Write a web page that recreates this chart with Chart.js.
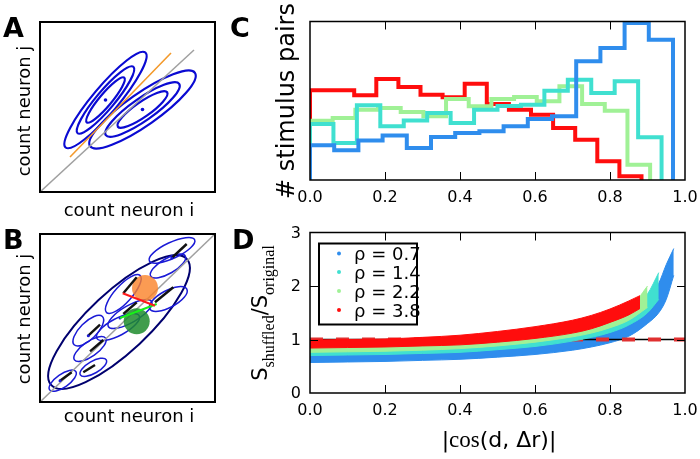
<!DOCTYPE html>
<html>
<head>
<meta charset="utf-8">
<script src="https://cdn.jsdelivr.net/npm/chart.js@4.4.0/dist/chart.umd.min.js"></script>
<style>
  body { margin: 0; background: #fff; width: 700px; height: 459px; overflow: hidden; position: relative; }
  canvas { position: absolute; left: 0; top: 0; }
</style>
</head>
<body>
<canvas id="chartA" width="700" height="459"></canvas>
<canvas id="chartB" width="700" height="459"></canvas>
<canvas id="chartC" width="700" height="459"></canvas>
<canvas id="chartD" width="700" height="459"></canvas>
<script>
// ---- Panel A: two response clouds (units = box pixels, y up) ----
const aDiagonal = [[0, 0], [154, 142]];
const aOrangeLine = [[30, 35], [131, 139]];
const aCenters = [[65.5, 92], [102.5, 82.5]];
// [cx, cy, semi-major, semi-minor, angle deg]
const aClouds = [[65.5, 92, 62, 13, 50], [102.5, 82.5, 64, 16, 35]];
const aContourScales = [1, 0.7, 0.47];

// ---- Panel B: many stimuli along the diagonal ----
const bDiagonal = [[0, 0], [175, 168]];
const bOuterEllipse = [79, 80, 92.6, 30, 43];
const bSmallEllipses = [
  [132, 151.7, 25, 8, 25],
  [128, 136, 20, 7.5, 30],
  [128.3, 103, 21, 8.5, 28],
  [83.3, 108, 25, 8.5, 48],
  [90, 88, 25, 8.5, 30],
  [48.3, 71.3, 20, 8.5, 45],
  [78, 75, 24, 8.5, 28],
  [50, 53, 19, 7.5, 35],
  [53.3, 34.7, 15, 6, 30],
  [22.7, 21.3, 16, 6.5, 35]
];
const bSegments = [
  [131.7, 144, 146.7, 158], [115, 99.7, 133.3, 114.7], [83.3, 108.7, 96.7, 124.7],
  [83.3, 88, 96.7, 99.7], [48.3, 66.3, 60, 77.3], [50, 50.7, 63.3, 62],
  [43.3, 29.7, 55, 37], [20, 21.3, 31.7, 29.7]
];
const bDots = [[80, 84], [48.3, 66.3], [20, 21.3], [131.7, 144]];
const bOrangeDisc = [105, 114];
const bGreenDisc = [96.7, 80.7];
const bRedArrow = [[82.7, 108.7], [115, 96.3]];
const bGreenArrow = [[80, 84], [116.7, 98]];

// ---- Panel C: histograms of |cos| (15 bins each, range 0..max) ----
const histBlue  = [21.9, 18.7, 25.0, 28.0, 20.2, 27.1, 29.7, 30.7, 33.9, 38.5, 40.2, 74.9, 83.3, 99, 88.5];
const histCyan  = [35.3, 23.3, 47.1, 33.9, 37.6, 42.3, 36.0, 44.4, 46.7, 47.5, 56.3, 63.3, 54.9, 62.3, 27.0];
const histGreen = [37.4, 39.1, 44.4, 45.4, 42.9, 40.2, 51.1, 46.5, 51.1, 52.4, 49.7, 59.1, 47.9, 43.7, 9.7];
const histRed   = [56.6, 56.6, 53.4, 63.7, 58.7, 53.8, 52.2, 60.8, 47.9, 44.4, 41.2, 32.8, 25.4, 11.8, 2.3];
const histMax = [0.968, 0.9375, 0.907, 0.884]; // blue, cyan, green, red
const cTicksX = [0, 0.2, 0.4, 0.6, 0.8, 1.0];

// ---- Panel D: S_shuffled / S_original bands (x, low, high) ----
const dBlueX    = [0, 0.1, 0.2, 0.3, 0.4, 0.5, 0.6, 0.7, 0.75, 0.8, 0.85, 0.9, 0.93, 0.95, 0.97];
const dBlueLow  = [0.57, 0.58, 0.59, 0.61, 0.63, 0.67, 0.72, 0.8, 0.86, 0.94, 1.06, 1.3, 1.5, 1.75, 2.2];
const dBlueHigh = [0.74, 0.75, 0.76, 0.78, 0.8, 0.85, 0.92, 1.03, 1.1, 1.22, 1.4, 1.75, 2.05, 2.4, 2.7];
const dCyanX    = [0, 0.1, 0.2, 0.3, 0.4, 0.5, 0.6, 0.7, 0.75, 0.8, 0.85, 0.9, 0.93];
const dCyanLow  = [0.70, 0.71, 0.72, 0.74, 0.76, 0.81, 0.87, 0.97, 1.04, 1.13, 1.27, 1.5, 1.75];
const dCyanHigh = [0.80, 0.81, 0.82, 0.84, 0.87, 0.92, 0.99, 1.1, 1.18, 1.3, 1.48, 1.85, 2.25];
const dGreenX    = [0, 0.1, 0.2, 0.3, 0.4, 0.5, 0.6, 0.7, 0.75, 0.8, 0.85, 0.9];
const dGreenLow  = [0.76, 0.77, 0.78, 0.8, 0.83, 0.88, 0.95, 1.05, 1.12, 1.22, 1.36, 1.6];
const dGreenHigh = [0.86, 0.87, 0.88, 0.9, 0.93, 0.98, 1.06, 1.18, 1.26, 1.38, 1.55, 2.0];
const dRedX    = [0, 0.1, 0.2, 0.3, 0.4, 0.5, 0.6, 0.7, 0.75, 0.8, 0.85, 0.88];
const dRedLow  = [0.84, 0.85, 0.86, 0.88, 0.9, 0.95, 1.02, 1.12, 1.2, 1.32, 1.46, 1.58];
const dRedHigh = [0.99, 1.0, 1.01, 1.04, 1.08, 1.15, 1.24, 1.36, 1.45, 1.57, 1.72, 1.82];
const dRefY = 1;
const rhoLabels = ['\u03c1 = 0.7', '\u03c1 = 1.4', '\u03c1 = 2.2', '\u03c1 = 3.8'];
const dTicksX = [0, 0.2, 0.4, 0.6, 0.8, 1.0];
const dTicksY = [0, 1, 2, 3];

const colors = { blue: '#2f8ded', cyan: '#40e0d0', green: '#a0f196', red: '#ff0d0d' };
const rhoColors = [colors.blue, colors.cyan, colors.green, colors.red];

const SANS = '"DejaVu Sans", sans-serif';
const SERIF = '"Liberation Serif", "DejaVu Serif", serif';

// ---------- helpers ----------
const pts = arr => arr.map(([x, y]) => ({ x, y }));
const zipXY = (xs, ys) => xs.map((x, i) => ({ x, y: ys[i] }));

function stepPoints(counts, xmax) {
  const w = xmax / counts.length;
  const out = [{ x: 0, y: 0 }];
  counts.forEach((c, i) => {
    out.push({ x: i * w, y: c });
    out.push({ x: (i + 1) * w, y: c });
  });
  out.push({ x: xmax, y: 0 });
  return out;
}

function drawRuns(ctx, runs, x, y, rot, align) {
  ctx.save();
  ctx.translate(x, y);
  if (rot) ctx.rotate(rot);
  let total = 0;
  runs.forEach(r => { ctx.font = r.font; total += ctx.measureText(r.text).width; });
  let cx = align === 'left' ? 0 : align === 'right' ? -total : -total / 2;
  ctx.textAlign = 'left';
  ctx.textBaseline = 'alphabetic';
  ctx.fillStyle = '#000';
  runs.forEach(r => {
    ctx.font = r.font;
    ctx.fillText(r.text, cx, r.dy || 0);
    cx += ctx.measureText(r.text).width;
  });
  ctx.restore();
}

// ellipses drawn through the chart scales
const ellipsePlugin = {
  id: 'ellipses',
  beforeDatasetsDraw(chart, args, opts) {
    const { ctx, scales: { x, y } } = chart;
    const ux = Math.abs(x.getPixelForValue(1) - x.getPixelForValue(0));
    const uy = Math.abs(y.getPixelForValue(1) - y.getPixelForValue(0));
    ctx.save();
    (opts.items || []).forEach(it => {
      const [cx, cy, a, b, ang] = it.e;
      ctx.beginPath();
      ctx.ellipse(x.getPixelForValue(cx), y.getPixelForValue(cy), a * ux * (it.s || 1), b * uy * (it.s || 1),
        -ang * Math.PI / 180, 0, Math.PI * 2);
      ctx.strokeStyle = it.color;
      ctx.lineWidth = it.width;
      ctx.stroke();
    });
    ctx.restore();
  }
};

// frame, inward ticks, tick labels, axis titles, legend
const decorPlugin = {
  id: 'decor',
  afterDraw(chart, args, o) {
    const { ctx, chartArea: a, scales: { x, y } } = chart;
    ctx.save();
    ctx.strokeStyle = '#000';
    ctx.lineWidth = o.frameWidth;
    ctx.strokeRect(a.left, a.top, a.right - a.left, a.bottom - a.top);
    ctx.lineWidth = 1;
    (o.ticksX || []).forEach(v => {
      const px = Math.round(x.getPixelForValue(v)) + 0.5;
      ctx.beginPath();
      ctx.moveTo(px, a.bottom); ctx.lineTo(px, a.bottom - 8);
      ctx.moveTo(px, a.top); ctx.lineTo(px, a.top + 8);
      ctx.stroke();
    });
    (o.ticksY || []).forEach(v => {
      const py = Math.round(y.getPixelForValue(v)) + 0.5;
      ctx.beginPath();
      ctx.moveTo(a.left, py); ctx.lineTo(a.left + 8, py);
      ctx.moveTo(a.right, py); ctx.lineTo(a.right - 8, py);
      ctx.stroke();
    });
    ctx.fillStyle = '#000';
    ctx.font = '16px ' + SANS;
    if (o.labelsX) {
      ctx.textAlign = 'center';
      ctx.textBaseline = 'alphabetic';
      o.labelsX.forEach(v => ctx.fillText(v.toFixed(1), x.getPixelForValue(v), o.labelsXBase));
    }
    if (o.labelsY) {
      ctx.textAlign = 'right';
      ctx.textBaseline = 'middle';
      o.labelsY.forEach(v => ctx.fillText(String(v), o.labelsYRight, y.getPixelForValue(v) + 1));
    }
    (o.texts || []).forEach(t => drawRuns(ctx, t.runs, t.x, t.y, t.rot, t.align));
    if (o.legend) {
      const L = o.legend;
      ctx.lineWidth = 2;
      ctx.strokeRect(L.x, L.y, L.w, L.h);
      ctx.font = '18px ' + SANS;
      ctx.textAlign = 'left';
      ctx.textBaseline = 'alphabetic';
      L.labels.forEach((lab, i) => {
        const ry = L.rows[i];
        ctx.fillStyle = L.colors[i];
        ctx.beginPath();
        ctx.arc(L.dotX, ry, 2, 0, Math.PI * 2);
        ctx.fill();
        ctx.fillStyle = '#000';
        ctx.fillText(lab, L.textX, ry + 6.5);
      });
    }
    ctx.restore();
  }
};

const baseOptions = (pad, xr, yr) => ({
  responsive: false,
  animation: false,
  events: [],
  layout: { padding: pad },
  scales: {
    x: { type: 'linear', min: xr[0], max: xr[1], display: false },
    y: { type: 'linear', min: yr[0], max: yr[1], display: false }
  },
  plugins: { legend: { display: false }, tooltip: { enabled: false } }
});

const letter = t => ({ font: 'bold 27px ' + SANS, text: t });
const labelFont = '18px ' + SANS;

// ---------- Panel A ----------
{
  const opt = baseOptions({ left: 40, right: 485, top: 22, bottom: 267 }, [0, 175], [0, 170]);
  const items = [];
  aClouds.forEach(e => aContourScales.forEach(s => items.push({ e, s, color: '#0a0ad2', width: 2.2 })));
  opt.plugins.ellipses = { items };
  opt.plugins.decor = {
    frameWidth: 2,
    texts: [
      { runs: [letter('A')], x: 3, y: 37, align: 'left' },
      { runs: [{ font: labelFont, text: 'count neuron i' }], x: 129, y: 216 },
      { runs: [{ font: labelFont, text: 'count neuron j' }], x: 30, y: 111, rot: -Math.PI / 2 }
    ]
  };
  new Chart(document.getElementById('chartA'), {
    type: 'scatter',
    data: { datasets: [
      { data: pts(aCenters), pointRadius: 1.8, backgroundColor: '#0a0ad2', borderWidth: 0 },
      { data: pts(aOrangeLine), showLine: true, borderColor: '#f3992b', borderWidth: 1.6, pointRadius: 0 },
      { data: pts(aDiagonal), showLine: true, borderColor: '#a0a0a0', borderWidth: 1.5, pointRadius: 0 }
    ] },
    options: opt,
    plugins: [ellipsePlugin, decorPlugin]
  });
}

// ---------- Panel B ----------
{
  const opt = baseOptions({ left: 40, right: 485, top: 234, bottom: 57 }, [0, 175], [0, 168]);
  const items = [{ e: bOuterEllipse, color: '#00006e', width: 2 }];
  bSmallEllipses.forEach(e => items.push({ e, color: '#1a1ad6', width: 1.5 }));
  opt.plugins.ellipses = { items };
  opt.plugins.decor = {
    frameWidth: 2,
    texts: [
      { runs: [letter('B')], x: 3, y: 249, align: 'left' },
      { runs: [{ font: labelFont, text: 'count neuron i' }], x: 129, y: 422 },
      { runs: [{ font: labelFont, text: 'count neuron j' }], x: 30, y: 319, rot: -Math.PI / 2 }
    ]
  };
  const segSets = bSegments.map(s => ({
    data: [{ x: s[0], y: s[1] }, { x: s[2], y: s[3] }], showLine: true,
    borderColor: '#111', borderWidth: 2.4, pointRadius: 0
  }));
  new Chart(document.getElementById('chartB'), {
    type: 'scatter',
    data: { datasets: [
      { data: pts(bRedArrow), showLine: true, borderColor: '#ff1a1a', borderWidth: 2, pointRadius: 0 },
      { data: pts(bGreenArrow), showLine: true, borderColor: '#19f019', borderWidth: 2, pointRadius: 0 },
      { data: pts(bDots), pointRadius: 1.5, backgroundColor: '#1a1ad6', borderWidth: 0 },
      ...segSets,
      { data: pts([bOrangeDisc]), pointRadius: 13, backgroundColor: 'rgba(250,130,40,0.8)', borderWidth: 0 },
      { data: pts([bGreenDisc]), pointRadius: 13, backgroundColor: 'rgba(30,140,45,0.85)', borderWidth: 0 },
      { data: pts(bDiagonal), showLine: true, borderColor: '#a0a0a0', borderWidth: 1.5, pointRadius: 0 }
    ] },
    options: opt,
    plugins: [ellipsePlugin, decorPlugin]
  });
}

// ---------- Panel C ----------
{
  const opt = baseOptions({ left: 310, right: 15, top: 21.5, bottom: 279 }, [0, 1], [0, 100]);
  opt.plugins.decor = {
    frameWidth: 1.5,
    ticksX: cTicksX.slice(1, -1),
    labelsX: cTicksX, labelsXBase: 201.5,
    texts: [
      { runs: [letter('C')], x: 230, y: 37, align: 'left' },
      { runs: [{ font: '24px ' + SANS, text: '# stimulus pairs' }], x: 294, y: 101, rot: -Math.PI / 2 }
    ]
  };
  const histLine = (counts, max, color) => ({
    data: stepPoints(counts, max), showLine: true, borderColor: color,
    borderWidth: 4, pointRadius: 0, borderJoinStyle: 'miter'
  });
  new Chart(document.getElementById('chartC'), {
    type: 'scatter',
    data: { datasets: [
      histLine(histBlue, histMax[0], colors.blue),
      histLine(histCyan, histMax[1], colors.cyan),
      histLine(histGreen, histMax[2], colors.green),
      histLine(histRed, histMax[3], colors.red)
    ] },
    options: opt,
    plugins: [decorPlugin]
  });
}

// ---------- Panel D ----------
{
  const opt = baseOptions({ left: 310, right: 15, top: 232.5, bottom: 66 }, [0, 1], [0, 3]);
  opt.plugins.decor = {
    frameWidth: 1.5,
    ticksX: dTicksX.slice(1, -1), labelsX: dTicksX, labelsXBase: 415,
    ticksY: dTicksY.slice(1, -1), labelsY: dTicksY, labelsYRight: 301,
    texts: [
      { runs: [letter('D')], x: 232, y: 249, align: 'left' },
      { runs: [
          { font: '22px ' + SANS, text: '|' },
          { font: '23px ' + SERIF, text: 'cos' },
          { font: '22px ' + SANS, text: '(d, \u0394r)|' }
        ], x: 499, y: 447 },
      { runs: [
          { font: '21px ' + SANS, text: 'S' },
          { font: '16px ' + SERIF, text: 'shuffled', dy: 7 },
          { font: '21px ' + SANS, text: '/S' },
          { font: '16px ' + SERIF, text: 'original', dy: 7 }
        ], x: 267, y: 313, rot: -Math.PI / 2 }
    ],
    legend: {
      x: 319, y: 243.5, w: 98, h: 81, dotX: 339, textX: 354,
      rows: [253.5, 272, 291, 310], labels: rhoLabels, colors: rhoColors
    }
  };
  const band = (xs, lo, hi, color, order) => [
    { data: zipXY(xs, lo), showLine: true, borderColor: color, borderWidth: 1, pointRadius: 0,
      cubicInterpolationMode: 'monotone', order },
    { data: zipXY(xs, hi), showLine: true, borderColor: color, borderWidth: 1, pointRadius: 0,
      backgroundColor: color, fill: '-1', cubicInterpolationMode: 'monotone', order }
  ];
  new Chart(document.getElementById('chartD'), {
    type: 'scatter',
    data: { datasets: [
      ...band(dRedX, dRedLow, dRedHigh, colors.red, 1),
      ...band(dGreenX, dGreenLow, dGreenHigh, colors.green, 2),
      ...band(dCyanX, dCyanLow, dCyanHigh, colors.cyan, 3),
      ...band(dBlueX, dBlueLow, dBlueHigh, colors.blue, 6),
      { data: [{ x: 0, y: dRefY }, { x: 1, y: dRefY }], showLine: true, borderColor: '#e03030',
        borderWidth: 4, borderDash: [13, 13], pointRadius: 0, order: 4 },
      { data: [{ x: 0, y: dRefY }, { x: 1, y: dRefY }], showLine: true, borderColor: '#000',
        borderWidth: 1.5, pointRadius: 0, order: 5 }
    ] },
    options: opt,
    plugins: [decorPlugin]
  });
}
</script>
</body>
</html>
